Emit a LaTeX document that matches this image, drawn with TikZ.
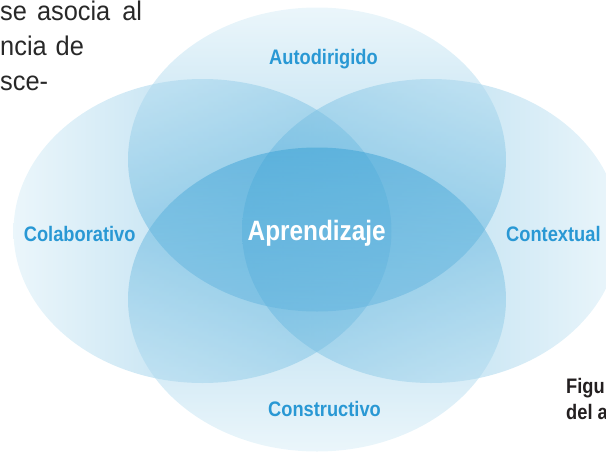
\documentclass[tikz,border=0pt]{standalone}
\usepackage{fontspec}
\setmainfont{Liberation Sans}
\newfontfamily\condbf[FakeStretch=0.87]{Liberation Sans Bold}
\newfontfamily\paraf[FakeStretch=0.94]{Liberation Sans}
\definecolor{outerC}{RGB}{215,237,247}
\definecolor{innerC}{RGB}{55,160,213}
\definecolor{lab}{RGB}{41,152,212}
\definecolor{para}{RGB}{40,40,40}
\definecolor{capc}{RGB}{35,31,32}
\begin{document}
\begin{tikzpicture}[x=1pt,y=-1pt,
  petal/.style={fill opacity=0.5, draw=none},
  lbl/.style={text=lab, font=\condbf\fontsize{21}{21}\selectfont, inner sep=0pt, anchor=base},
  paratext/.style={text=para, font=\paraf\fontsize{27}{27}\selectfont, inner sep=0pt, anchor=base west},
  captext/.style={text=capc, font=\condbf\fontsize{21}{21}\selectfont, inner sep=0pt, anchor=base west}]
\useasboundingbox (0,0) rectangle (606,451);
\clip (0,0) rectangle (606,451);
% four petals
\shade[petal, left color=outerC, right color=innerC] (202.5,231) ellipse [x radius=189pt, y radius=152pt];
\shade[petal, left color=innerC, right color=outerC] (431,231) ellipse [x radius=189pt, y radius=152pt];
\shade[petal, top color=outerC, bottom color=innerC] (317,159.5) ellipse [x radius=189pt, y radius=152pt];
\shade[petal, top color=innerC, bottom color=outerC] (317,299.5) ellipse [x radius=189pt, y radius=152pt];
% labels
\node[lbl] (auto) at (323.5,64.5) {Autodirigido};
\node[lbl] (cola) at (79.7,241) {Colaborativo};
\node[lbl] (cont) at (553.4,241) {Contextual};
\node[lbl] (cons) at (324.5,416) {Constructivo};
\node[lbl, text=white, font=\condbf\fontsize{28}{28}\selectfont] (apre) at (316.7,240) {Aprendizaje};
% surrounding page text
\node[paratext] (p1) at (0,20.5) {se\hspace{10pt}asocia\hspace{12pt}al};
\node[paratext] (p2) at (0,55.5) {ncia\hspace{9pt}de};
\node[paratext] (p3) at (0,90) {sce-};
\node[captext] (c1) at (566,393.5) {Figu};
\node[captext] (c2) at (566,419.5) {del a};
\end{tikzpicture}
\end{document}
